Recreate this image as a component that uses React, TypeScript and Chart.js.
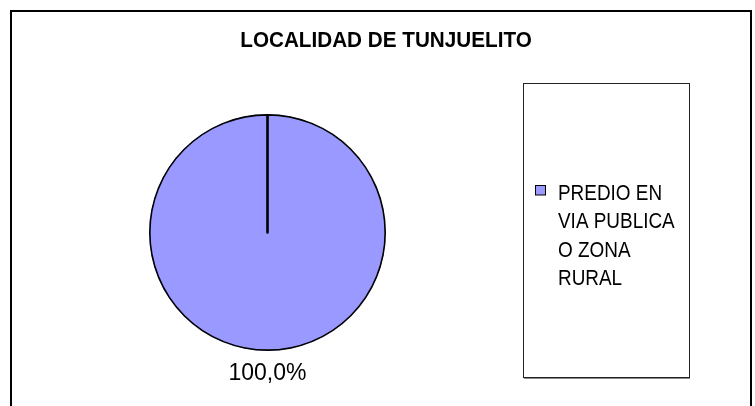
import React, { useEffect, useRef } from "react";
import { Chart, registerables } from "chart.js";

Chart.register(...registerables);

const TITLE = "LOCALIDAD DE TUNJUELITO";
const categories = ["PREDIO EN VIA PUBLICA O ZONA RURAL"];
const values = [100];
const colors = ["#9999FF"];

const FONT = "'Liberation Sans', Arial, sans-serif";

function wrapWords(ctx: CanvasRenderingContext2D, text: string, maxW: number, sx: number): string[] {
  const words = text.split(" ");
  const lines: string[] = [];
  let cur = "";
  for (const w of words) {
    const test = cur ? cur + " " + w : w;
    if (cur && ctx.measureText(test).width * sx > maxW) {
      lines.push(cur);
      cur = w;
    } else {
      cur = test;
    }
  }
  if (cur) lines.push(cur);
  return lines;
}

function scaledText(ctx: CanvasRenderingContext2D, text: string, x: number, y: number, sx: number) {
  ctx.save();
  ctx.translate(x, y);
  ctx.scale(sx, 1);
  ctx.fillText(text, 0, 0);
  ctx.restore();
}

const decorPlugin = {
  id: "decor",
  beforeDraw(chart: any) {
    const ctx: CanvasRenderingContext2D = chart.ctx;
    ctx.save();
    ctx.fillStyle = "#ffffff";
    ctx.fillRect(0, 0, chart.width, chart.height);
    ctx.restore();
  },
  afterDraw(chart: any) {
    const ctx: CanvasRenderingContext2D = chart.ctx;
    ctx.save();
    // outer frame
    ctx.strokeStyle = "#000000";
    ctx.lineWidth = 2;
    ctx.strokeRect(11, 11, 740, 420);

    // title
    ctx.fillStyle = "#000000";
    ctx.font = `bold 22px ${FONT}`;
    ctx.textAlign = "center";
    ctx.textBaseline = "alphabetic";
    scaledText(ctx, TITLE, 386, 47, 0.94);

    // data labels
    const meta = chart.getDatasetMeta(0);
    const total = values.reduce((a, b) => a + b, 0);
    meta.data.forEach((arc: any, i: number) => {
      const p = arc.getProps(["x", "y", "startAngle", "endAngle", "outerRadius"], true);
      const mid = (p.startAngle + p.endAngle) / 2;
      const r = p.outerRadius + 23;
      const pct = ((values[i] / total) * 100).toFixed(1).replace(".", ",") + "%";
      ctx.font = `23px ${FONT}`;
      ctx.textAlign = "center";
      ctx.textBaseline = "middle";
      ctx.fillStyle = "#000000";
      ctx.fillText(pct, p.x + Math.cos(mid) * r, p.y + Math.sin(mid) * r);
    });

    // legend box
    const bx = 523, by = 83, bw = 166, bh = 294;
    ctx.strokeStyle = "#222222";
    ctx.lineWidth = 1;
    ctx.strokeRect(bx + 0.5, by + 0.5, bw, bh);
    ctx.strokeStyle = "#888888";
    ctx.beginPath();
    ctx.moveTo(bx + 1, by + bh + 1.5);
    ctx.lineTo(bx + bw + 1, by + bh + 1.5);
    ctx.stroke();

    const sx = 0.86;
    const lineH = 28.5;
    ctx.font = `22px ${FONT}`;
    ctx.textAlign = "left";
    ctx.textBaseline = "alphabetic";
    const allLines = categories.map((c) => wrapWords(ctx, c, 128, sx));
    const nLines = allLines.reduce((a, l) => a + l.length, 0);
    let top = by + bh / 2 - (nLines * lineH) / 2 + 2;
    allLines.forEach((lines, i) => {
      const base0 = top + 24.5;
      ctx.fillStyle = colors[i];
      ctx.fillRect(535, base0 - 14.5, 11, 10);
      ctx.strokeStyle = "#000000";
      ctx.lineWidth = 1;
      ctx.strokeRect(535.5, base0 - 14, 10, 9.5);
      ctx.fillStyle = "#000000";
      lines.forEach((ln, j) => {
        scaledText(ctx, ln, 558, base0 + j * lineH, sx);
      });
      top += lines.length * lineH;
    });
    ctx.restore();
  },
};

export default function App() {
  const ref = useRef<HTMLCanvasElement>(null);
  useEffect(() => {
    if (!ref.current) return;
    const chart = new Chart(ref.current, {
      type: "pie",
      data: {
        labels: categories,
        datasets: [
          {
            data: values,
            backgroundColor: colors,
            borderColor: "#000000",
            borderWidth: 1.3,
            borderAlign: "inner",
          } as any,
        ],
      },
      options: {
        responsive: false,
        animation: false,
        devicePixelRatio: 1,
        events: [],
        layout: { padding: { left: 149, right: 369, top: 114, bottom: 55 } },
        plugins: {
          legend: { display: false },
          tooltip: { enabled: false },
          title: { display: false },
        },
      } as any,
      plugins: [decorPlugin],
    });
    return () => chart.destroy();
  }, []);
  return (
    <div style={{ position: "fixed", left: 0, top: 0, width: 755, height: 406, background: "#fff" }}>
      <canvas ref={ref} width={755} height={406} style={{ width: 755, height: 406, display: "block" }} />
    </div>
  );
}
